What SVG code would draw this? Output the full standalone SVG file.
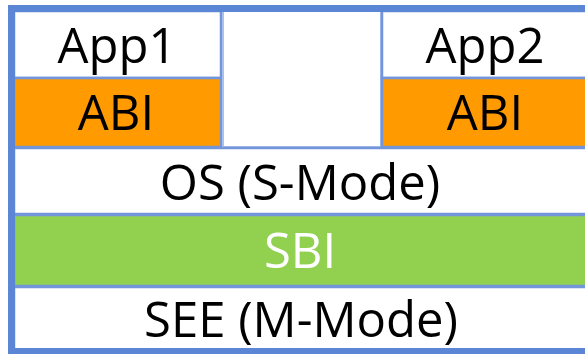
<svg xmlns="http://www.w3.org/2000/svg" width="585" height="354" viewBox="0 0 585 354">
<style>
.cell{stroke:#7396da;stroke-width:2.5}
.w{fill:#ffffff}
.o{fill:#ff9a00}
.g{fill:#92d050}
.t{font-family:"Open Sans","Noto Sans",sans-serif;font-size:49px;text-anchor:middle;fill:#000}
.tw{fill:#ffffff}
</style>
<rect x="0" y="0" width="585" height="354" fill="#ffffff"/>
<g id="app1"><rect class="cell w" x="14" y="11" width="207" height="67"/><text class="t" x="117" y="63">App1</text></g>
<g id="abi1"><rect class="cell o" x="14" y="78" width="207" height="69"/><text class="t" x="116" y="130">ABI</text></g>
<g id="gap"><rect x="223" y="11" width="158" height="136" fill="#ffffff" stroke="#a9c0ea" stroke-width="2"/></g>
<g id="app2"><rect class="cell w" x="382" y="11" width="210" height="67"/><text class="t" x="485" y="63">App2</text></g>
<g id="abi2"><rect class="cell o" x="382" y="78" width="210" height="69"/><text class="t" x="485" y="130">ABI</text></g>
<g id="os"><rect class="cell w" x="14" y="148" width="578" height="66"/><text class="t" x="300" y="200">OS (S-Mode)</text></g>
<g id="sbi"><rect class="cell g" x="14" y="215" width="578" height="71"/><text class="t tw" x="300" y="268">SBI</text></g>
<g id="see"><rect class="cell w" x="14" y="287" width="578" height="63"/><text class="t" x="301" y="337">SEE (M-Mode)</text></g>
<g id="frame"><rect x="11.5" y="8.5" width="590" height="343" fill="none" stroke="#5b86d6" stroke-width="7"/></g>
<g id="connectors"></g>
</svg>
